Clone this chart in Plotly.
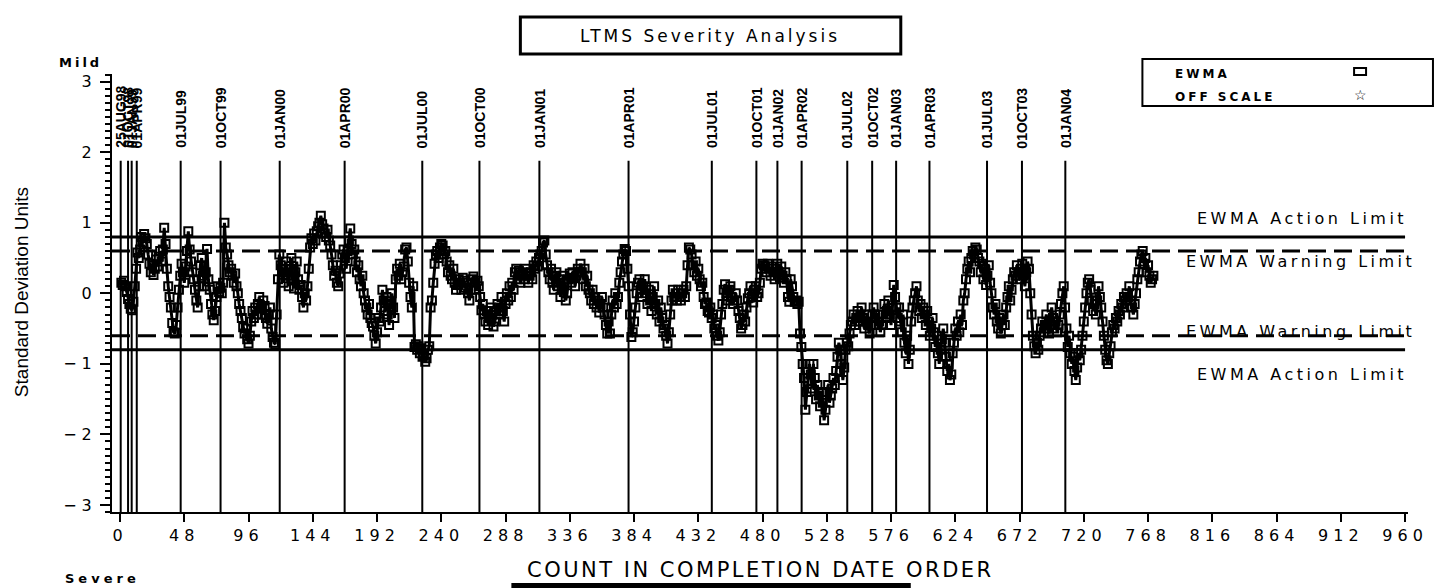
import plotly.graph_objects as go

W, H = 1440, 588
L, R, T, B = 112, 30, 74, 76
PW, PH = W - L - R, H - T - B

# ---------------- data ----------------
ewma = [
    0.15, 0.12, 0.18, 0.10, 0.02, -0.08, -0.15, -0.22, -0.24, -0.12,
    0.10, 0.35, 0.58, 0.50, 0.62, 0.80, 0.72, 0.84, 0.78, 0.70,
    0.55, 0.42, 0.30, 0.40, 0.26, 0.35, 0.48, 0.38, 0.52, 0.60,
    0.45, 0.62, 0.93, 0.70, 0.35, 0.10, -0.05, -0.20, -0.42, -0.55,
    -0.57, -0.45, -0.20, 0.05, 0.25, 0.42, 0.30, 0.15, 0.38, 0.60,
    0.88, 0.62, 0.45, 0.30, 0.20, 0.05, -0.10, -0.20, 0.10, 0.40,
    0.50, 0.25, 0.10, 0.30, 0.63, 0.20, 0.05, -0.15, -0.30, -0.38,
    -0.25, -0.05, 0.10, 0.02, 0.08, 0.00, 0.15, 1.00, 0.65, 0.55,
    0.40, 0.30, 0.35, 0.25, 0.15, 0.28, 0.10, 0.00, -0.15, -0.25,
    -0.35, -0.48, -0.57, -0.50, -0.65, -0.71, -0.60, -0.40, -0.25, -0.35,
    -0.20, -0.30, -0.15, -0.05, -0.22, -0.30, -0.10, -0.18, -0.35, -0.43,
    -0.30, -0.20, -0.50, -0.62, -0.70, -0.72, -0.30, 0.20, 0.55, 0.40,
    0.35, 0.15, 0.30, 0.45, 0.25, 0.10, 0.35, 0.50, 0.20, 0.07,
    0.30, 0.45, 0.20, 0.05, 0.12, -0.05, -0.20, 0.00, -0.10, 0.10,
    0.35, 0.65, 0.78, 0.70, 0.85, 0.75, 0.88, 0.95, 1.00, 1.10,
    0.98, 0.92, 0.85, 0.80, 0.90, 0.75, 0.68, 0.55, 0.40, 0.25,
    0.32, 0.15, 0.10, 0.28, 0.40, 0.55, 0.62, 0.50, 0.35, 0.60,
    0.75, 0.92, 0.70, 0.55, 0.62, 0.45, 0.30, 0.40, 0.20, 0.10,
    0.25, 0.00, -0.10, -0.20, -0.30, -0.15, -0.35, -0.42, -0.47, -0.60,
    -0.71, -0.55, -0.35, -0.40, -0.20, 0.05, -0.10, -0.25, -0.05, -0.30,
    -0.45, -0.15, 0.00, -0.20, -0.35, 0.20, 0.35, 0.25, 0.42, 0.20,
    0.30, 0.38, 0.62, 0.65, 0.45, 0.15, -0.05, -0.20, 0.10, -0.76,
    -0.72, -0.80, -0.75, -0.85, -0.78, -0.90, -0.88, -0.97, -0.92, -0.80,
    -0.75, -0.20, -0.10, 0.15, 0.42, 0.55, 0.60, 0.50, 0.65, 0.70,
    0.68, 0.55, 0.60, 0.45, 0.30, 0.40, 0.25, 0.20, 0.35, 0.15,
    0.05, 0.12, 0.20, 0.15, 0.05, 0.22, 0.18, 0.08, 0.15, 0.00,
    -0.10, 0.05, 0.20, 0.24, 0.15, 0.05, 0.18, 0.10, -0.05, -0.24,
    -0.15, -0.30, -0.40, -0.25, -0.45, -0.35, -0.20, -0.30, -0.47, -0.40,
    -0.25, -0.15, -0.30, -0.20, -0.05, -0.25, -0.40, -0.15, 0.00, -0.10,
    0.10, -0.05, 0.15, 0.05, 0.30, 0.35, 0.20, 0.32, 0.15, 0.25,
    0.30, 0.20, 0.35, 0.28, 0.15, 0.25, 0.30, 0.20, 0.40, 0.35,
    0.45, 0.38, 0.50, 0.55, 0.60, 0.72, 0.75, 0.55, 0.40, 0.30,
    0.20, 0.35, 0.15, 0.05, 0.25, 0.30, 0.10, 0.20, -0.05, 0.05,
    0.25, 0.15, -0.10, 0.00, 0.20, 0.28, 0.15, 0.30, 0.22, 0.10,
    0.25, 0.35, 0.30, 0.42, 0.30, 0.20, 0.35, 0.10, 0.25, 0.05,
    0.00, -0.10, 0.05, -0.15, -0.05, -0.20, -0.10, -0.27, -0.15, -0.05,
    -0.20, -0.30, -0.45, -0.57, -0.40, -0.57, -0.30, -0.10, -0.20, 0.00,
    -0.15, -0.05, 0.15, 0.30, 0.45, 0.55, 0.63, 0.60, 0.35, 0.10,
    -0.30, -0.62, -0.55, -0.40, -0.20, 0.00, 0.15, 0.20, 0.05, -0.05,
    0.10, 0.20, 0.00, -0.15, 0.05, -0.10, -0.25, -0.05, 0.10, -0.15,
    -0.30, -0.10, -0.40, -0.20, -0.35, -0.50, -0.45, -0.60, -0.71, -0.55,
    -0.30, -0.10, 0.05, -0.05, 0.00, -0.10, 0.05, -0.05, -0.10, 0.00,
    0.05, -0.05, 0.10, 0.40, 0.65, 0.62, 0.55, 0.40, 0.30, 0.45,
    0.25, 0.35, 0.20, 0.10, 0.15, -0.05, -0.15, -0.13, -0.25, -0.27,
    -0.20, -0.35, -0.30, -0.50, -0.45, -0.60, -0.67, -0.55, -0.30, -0.15,
    0.05, 0.13, 0.00, -0.10, 0.05, 0.10, -0.05, -0.15, -0.10, 0.00,
    -0.10, -0.25, -0.35, -0.50, -0.45, -0.30, -0.40, -0.20, -0.07, 0.00,
    0.10, -0.05, -0.13, 0.05, 0.10, -0.05, 0.00, 0.15, 0.35, 0.42,
    0.40, 0.38, 0.30, 0.42, 0.35, 0.25, 0.38, 0.30, 0.20, 0.35,
    0.42, 0.30, 0.22, 0.38, 0.25, 0.15, 0.30, 0.20, -0.05, -0.12,
    0.20, 0.10, -0.05, -0.12, -0.10, -0.15, -0.12, -0.57, -0.76, -1.00,
    -1.20, -1.65, -1.40, -1.25, -1.00, -1.15, -1.35, -1.00, -1.20, -1.50,
    -1.30, -1.45, -1.60, -1.40, -1.55, -1.80, -1.65, -1.40, -1.30, -1.55,
    -1.45, -1.35, -1.20, -1.30, -1.10, -0.90, -0.70, -0.80, -1.00, -1.23,
    -1.05, -0.80, -0.70, -0.75, -0.57, -0.45, -0.40, -0.30, -0.45, -0.35,
    -0.25, -0.40, -0.30, -0.20, -0.35, -0.50, -0.40, -0.30, -0.45, -0.57,
    -0.45, -0.30, -0.20, -0.35, -0.45, -0.30, -0.40, -0.55, -0.45, -0.30,
    -0.15, -0.35, -0.25, -0.10, -0.30, -0.45, -0.20, 0.12, -0.05, -0.20,
    -0.35, -0.20, -0.40, -0.55, -0.30, -0.70, -0.85, -0.60, -1.00, -0.80,
    -0.40, -0.20, -0.10, 0.00, 0.10, -0.10, -0.25, -0.15, -0.35, -0.20,
    -0.30, -0.45, -0.25, -0.40, -0.60, -0.50, -0.35, -0.55, -0.76, -0.60,
    -0.85, -1.00, -0.80, -0.65, -0.50, -0.70, -0.90, -1.10, -1.00, -1.23,
    -1.15, -0.85, -0.70, -0.50, -0.60, -0.40, -0.55, -0.30, -0.45, -0.10,
    0.00, 0.20, 0.35, 0.45, 0.30, 0.50, 0.60, 0.55, 0.65, 0.62,
    0.50, 0.45, 0.30, 0.42, 0.20, 0.35, 0.12, 0.25, 0.40, 0.15,
    0.00, -0.20, -0.30, -0.15, -0.40, -0.50, -0.35, -0.57, -0.45, -0.30,
    -0.45, -0.20, -0.05, 0.10, -0.10, 0.05, 0.20, 0.30, 0.25, 0.40,
    0.30, 0.20, 0.35, 0.42, 0.25, 0.10, 0.30, 0.45, 0.35, 0.00,
    -0.30, -0.60, -0.75, -0.85, -0.70, -0.80, -0.60, -0.50, -0.40, -0.55,
    -0.45, -0.30, -0.50, -0.57, -0.40, -0.20, -0.35, -0.50, -0.40, -0.55,
    -0.45, -0.30, -0.15, 0.00, 0.10, -0.20, -0.50, -0.76, -0.60, -0.85,
    -1.00, -0.90, -1.10, -1.23, -1.05, -0.85, -0.95, -0.80, -0.60, -0.40,
    -0.20, 0.00, 0.15, 0.20, 0.05, -0.10, -0.25, -0.15, -0.30, -0.10,
    0.10, -0.05, -0.20, -0.40, -0.60, -0.80, -0.95, -1.00, -0.85, -0.75,
    -0.55, -0.45, -0.50, -0.35, -0.40, -0.25, -0.30, -0.15, -0.20, -0.05,
    -0.10, 0.00, -0.05, 0.10, -0.10, -0.20, -0.30, -0.15, 0.00, 0.20,
    0.30, 0.45, 0.55, 0.60, 0.42, 0.50, 0.30, 0.40, 0.25, 0.15,
    0.20, 0.25,
]
counts = list(range(1, len(ewma) + 1))

date_labels = ["25AUG98", "01OCT98", "01JAN99", "01APR99", "01JUL99", "01OCT99",
               "01JAN00", "01APR00", "01JUL00", "01OCT00", "01JAN01", "01APR01",
               "01JUL01", "01OCT01", "01JAN02", "01APR02", "01JUL02", "01OCT02",
               "01JAN03", "01APR03", "01JUL03", "01OCT03", "01JAN04"]
date_counts = [0.5, 6, 8.7, 12.5, 45.3, 75.1, 119.3, 167.8, 225.8, 268.5, 313.3,
               379.9, 442.1, 475.4, 491.1, 509.2, 543.3, 561.9, 579.8, 604.7,
               647.7, 673.8, 706.2]

action_limit = 0.8
warning_limit = 0.6

x_ticks = list(range(0, 961, 48))
y_ticks = [-3, -2, -1, 0, 1, 2, 3]
y_tick_text = ["\u22123", "\u22122", "\u22121", "0", "1", "2", "3"]

# ---------------- helpers ----------------
def pxx(x):
    return (x - L) / PW

def pxy(y):
    return (H - B - y) / PH

WIDE = "DejaVu Sans, Verdana, sans-serif"
NARROW = "Liberation Sans, Arial, sans-serif"

def spaced(s, ls):
    return '<span style="letter-spacing:%spx">%s</span>' % (ls, s)

fig = go.Figure()

fig.add_trace(go.Scatter(
    x=counts, y=ewma, mode="lines+markers",
    line=dict(color="black", width=3),
    marker=dict(symbol="square-open", size=8, color="black", line=dict(width=2, color="black")),
    showlegend=False, hoverinfo="x+y",
))

shapes = []
# vertical date lines
for c in date_counts:
    shapes.append(dict(type="line", xref="x", yref="y", x0=c, x1=c, y0=-3.1, y1=1.88,
                       line=dict(color="black", width=2), layer="below"))
# limit lines
for v in (action_limit, -action_limit):
    shapes.append(dict(type="line", xref="x", yref="y", x0=-6, x1=960, y0=v, y1=v,
                       line=dict(color="black", width=3), layer="below"))
for v in (warning_limit, -warning_limit):
    shapes.append(dict(type="line", xref="x", yref="y", x0=-6, x1=960, y0=v, y1=v,
                       line=dict(color="black", width=3, dash="18px,8px"), layer="below"))
# title box
shapes.append(dict(type="rect", xref="paper", yref="paper",
                   x0=pxx(521), x1=pxx(902), y0=pxy(54), y1=pxy(17),
                   line=dict(color="black", width=3)))
# legend box
shapes.append(dict(type="rect", xref="paper", yref="paper",
                   x0=pxx(1144), x1=pxx(1435), y0=pxy(106), y1=pxy(59),
                   line=dict(color="black", width=2)))
# legend square symbol
shapes.append(dict(type="rect", xref="paper", yref="paper",
                   x0=pxx(1356), x1=pxx(1368), y0=pxy(75), y1=pxy(68),
                   line=dict(color="black", width=2)))
# bottom black bar
shapes.append(dict(type="rect", xref="paper", yref="paper",
                   x0=pxx(512), x1=pxx(912), y0=pxy(592), y1=pxy(583),
                   line=dict(width=0), fillcolor="black"))

ann = []
for lab, c in zip(date_labels, date_counts):
    ann.append(dict(x=c, y=2.03, xref="x", yref="y", text="<b>%s</b>" % lab,
                    textangle=-90, showarrow=False, xanchor="center", yanchor="bottom",
                    font=dict(family=NARROW, size=14, color="black")))

def pann(text, x, y, size, family=WIDE, xanchor="center", yanchor="middle", angle=0):
    ann.append(dict(x=pxx(x), y=pxy(y), xref="paper", yref="paper", text=text,
                    showarrow=False, xanchor=xanchor, yanchor=yanchor, textangle=angle,
                    font=dict(family=family, size=size, color="black")))

pann(spaced("LTMS Severity Analysis", 3), 711, 36, 17)
pann(spaced("EWMA Action Limit", 3.5), 1304, 218, 16)
pann(spaced("EWMA Warning Limit", 3.5), 1302, 261, 16)
pann(spaced("EWMA Warning Limit", 3.5), 1302, 331, 16)
pann(spaced("EWMA Action Limit", 3.5), 1304, 374, 16)
pann("<b>" + spaced("EWMA", 3) + "</b>", 1175, 74, 12, xanchor="left")
pann("<b>" + spaced("OFF SCALE", 3) + "</b>", 1175, 97, 12, xanchor="left")
pann("<b>\u2606</b>", 1362, 95, 14)
pann("<b>" + spaced("Mild", 3) + "</b>", 57, 63, 13, xanchor="left")
pann("<b>" + spaced("Severe", 4) + "</b>", 63, 578, 13, xanchor="left")
pann(spaced("COUNT IN COMPLETION DATE ORDER", 2.5), 761, 570, 21)
pann("Standard Deviation Units", 21, 292, 19, family=NARROW, angle=-90)

fig.update_layout(
    width=W, height=H, margin=dict(l=L, r=R, t=T, b=B),
    paper_bgcolor="white", plot_bgcolor="white",
    shapes=shapes, annotations=ann, showlegend=False,
    xaxis=dict(range=[-6, 962.2], showgrid=False, zeroline=False,
               showline=True, linecolor="black", linewidth=2,
               ticks="outside", ticklen=8, tickwidth=2, tickcolor="black",
               tickvals=x_ticks, ticktext=[spaced(str(v), 5) for v in x_ticks],
               tickfont=dict(family=WIDE, size=16, color="black")),
    yaxis=dict(range=[-3.1, 3.11], showgrid=False, zeroline=False,
               showline=True, linecolor="black", linewidth=2,
               ticks="outside", ticklen=10, tickwidth=2, tickcolor="black",
               tickvals=y_ticks, ticktext=[spaced(t, 5) for t in y_tick_text],
               tickfont=dict(family=WIDE, size=16, color="black"),
               minor=dict(dtick=0.1, ticklen=5, tickwidth=1.5, tickcolor="black", ticks="outside")),
)

fig.write_html("out.html")
